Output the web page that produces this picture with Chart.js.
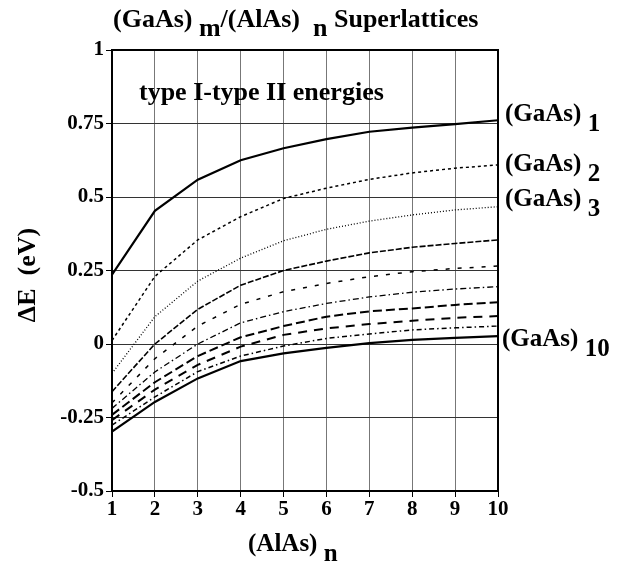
<!DOCTYPE html>
<html>
<head>
<meta charset="utf-8">
<script src="https://cdn.jsdelivr.net/npm/chart.js@4.4.1/dist/chart.umd.min.js"></script>
<style>
  body { margin: 0; background: #fff; }
  #wrap { width: 629px; height: 570px; }
</style>
</head>
<body>
<div id="wrap"><canvas id="sl_chart" width="629" height="570"></canvas></div>
<script>
// (AlAs)n layer count on x
var nVals = [1, 2, 3, 4, 5, 6, 7, 8, 9, 10];

// Delta E (eV) for (GaAs)m, m = 1..10
var gaas1  = [0.236, 0.453, 0.559, 0.625, 0.666, 0.697, 0.722, 0.736, 0.748, 0.761];
var gaas2  = [0.012, 0.230, 0.354, 0.433, 0.495, 0.530, 0.560, 0.582, 0.598, 0.609];
var gaas3  = [-0.100, 0.093, 0.214, 0.292, 0.351, 0.390, 0.418, 0.439, 0.456, 0.467];
var gaas4  = [-0.162, 0.000, 0.118, 0.200, 0.250, 0.282, 0.310, 0.329, 0.342, 0.354];
var gaas5  = [-0.200, -0.050, 0.061, 0.135, 0.178, 0.206, 0.229, 0.246, 0.257, 0.265];
var gaas6  = [-0.219, -0.095, 0.000, 0.072, 0.110, 0.138, 0.160, 0.176, 0.187, 0.195];
var gaas7  = [-0.241, -0.130, -0.041, 0.023, 0.061, 0.093, 0.111, 0.121, 0.133, 0.142];
var gaas8  = [-0.259, -0.155, -0.071, -0.009, 0.031, 0.053, 0.068, 0.079, 0.089, 0.095];
var gaas9  = [-0.276, -0.180, -0.094, -0.041, -0.007, 0.019, 0.034, 0.048, 0.055, 0.061];
var gaas10 = [-0.298, -0.197, -0.117, -0.058, -0.032, -0.013, 0.003, 0.014, 0.021, 0.027];

var yTicks = [-0.5, -0.25, 0, 0.25, 0.5, 0.75, 1];
var yTickText = ['-0.5', '-0.25', '0', '0.25', '0.5', '0.75', '1'];

var titleText = ['(GaAs) ', 'm', '/(AlAs)  ', 'n', ' Superlattices'];
var xTitleText = ['(AlAs) ', 'n'];
var yTitleText = '\u0394E  (eV)';
var noteText = 'type I-type II energies';
var endLabels = [['(GaAs) ', '1'], ['(GaAs) ', '2'], ['(GaAs) ', '3'], ['(GaAs) ', '10']];

var FONT = '"Liberation Serif", "Times New Roman", serif';

function pts(vals) {
    return vals.map((v, i) => ({ x: nVals[i], y: v }));
}

function series(vals, dash, width) {
    return {
        data: pts(vals),
        borderColor: '#000',
        borderWidth: width,
        borderDash: dash,
        pointRadius: 0,
        fill: false,
        tension: 0
    };
}

// draw text pieces one after another, odd pieces dropped as subscripts
function drawRich(ctx, x, y, parts, size, drop) {
    ctx.font = 'bold ' + size + 'px ' + FONT;
    parts.forEach((p, i) => {
        ctx.fillText(p, x, i % 2 ? y + drop : y);
        x += ctx.measureText(p).width;
    });
}

var textPlugin = {
    id: 'textPlugin',
    afterDraw(chart) {
        var ctx = chart.ctx;
        var a = chart.chartArea;
        ctx.save();
        ctx.strokeStyle = '#000';
        ctx.lineWidth = 2;
        ctx.strokeRect(a.left, a.top, a.right - a.left, a.bottom - a.top);

        ctx.fillStyle = '#000';
        ctx.textBaseline = 'alphabetic';
        ctx.textAlign = 'left';
        drawRich(ctx, 113, 27, titleText, 26, 9);
        drawRich(ctx, 139, 100, [noteText], 26, 0);
        drawRich(ctx, 248, 551, xTitleText, 25, 10);

        var ys = [121, 171, 206, 346];
        var xs = [505, 505, 505, 502];
        endLabels.forEach((lab, i) => drawRich(ctx, xs[i] , ys[i], lab, 25, 10));

        ctx.translate(35, 275);
        ctx.rotate(-Math.PI / 2);
        ctx.textAlign = 'center';
        ctx.font = 'bold 26px ' + FONT;
        ctx.fillText(yTitleText, 0, 0);
        ctx.restore();
    }
};

var chart = new Chart('sl_chart', {
    type: 'line',
    data: {
        datasets: [
            series(gaas1, [], 2.2),
            series(gaas2, [3, 3], 1.5),
            series(gaas3, [1, 2], 1.3),
            series(gaas4, [6, 2], 1.6),
            series(gaas5, [4, 8], 1.5),
            series(gaas6, [6, 3, 1.5, 3], 1.3),
            series(gaas7, [9, 4], 2),
            series(gaas8, [9, 7], 2),
            series(gaas9, [5, 3, 1.5, 3], 1.5),
            series(gaas10, [], 2.2)
        ]
    },
    options: {
        responsive: false,
        animation: { duration: 0 },
        layout: { padding: { left: 0, right: 131, top: 50, bottom: 0 } },
        plugins: { legend: { display: false }, tooltip: { enabled: false }, title: { display: false } },
        scales: {
            x: {
                type: 'linear',
                min: 1, max: 10,
                afterFit: s => { s.height = 79; },
                ticks: { stepSize: 1, color: '#000', padding: 0, font: { family: FONT, size: 21, weight: 'bold' } },
                grid: { color: '#777', lineWidth: 1, tickLength: 6, tickColor: '#000' },
                border: { display: true, color: '#000', width: 2 }
            },
            y: {
                min: -0.5, max: 1,
                afterFit: s => { s.width = 112; },
                afterBuildTicks: s => { s.ticks = yTicks.map(v => ({ value: v })); },
                ticks: {
                    color: '#000', padding: 2,
                    font: { family: FONT, size: 21, weight: 'bold' },
                    callback: (v) => yTickText[yTicks.indexOf(v)]
                },
                grid: { color: '#333', lineWidth: 1, tickLength: 6, tickColor: '#000' },
                border: { display: true, color: '#000', width: 2 }
            }
        }
    },
    plugins: [textPlugin]
});
</script>
</body>
</html>
